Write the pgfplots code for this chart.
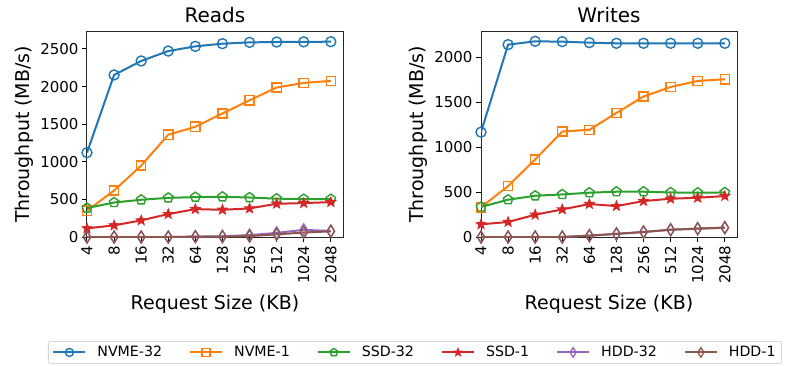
\documentclass[border=0pt]{standalone}
\usepackage{pgfplots}
\pgfplotsset{compat=1.18}
\usepackage{fontspec}
\setmainfont{DejaVu Sans}
\definecolor{c0}{HTML}{1F77B4}
\definecolor{c1}{HTML}{FF7F0E}
\definecolor{c2}{HTML}{2CA02C}
\definecolor{c3}{HTML}{D62728}
\definecolor{c4}{HTML}{9467BD}
\definecolor{c5}{HTML}{8C564B}
\pgfdeclareplotmark{fstar}{%
  \pgfpathmoveto{\pgfpointpolar{90}{\pgfplotmarksize}}%
  \pgfpathlineto{\pgfpointpolar{126}{0.42\pgfplotmarksize}}%
  \pgfpathlineto{\pgfpointpolar{162}{\pgfplotmarksize}}%
  \pgfpathlineto{\pgfpointpolar{198}{0.42\pgfplotmarksize}}%
  \pgfpathlineto{\pgfpointpolar{234}{\pgfplotmarksize}}%
  \pgfpathlineto{\pgfpointpolar{270}{0.42\pgfplotmarksize}}%
  \pgfpathlineto{\pgfpointpolar{306}{\pgfplotmarksize}}%
  \pgfpathlineto{\pgfpointpolar{342}{0.42\pgfplotmarksize}}%
  \pgfpathlineto{\pgfpointpolar{18}{\pgfplotmarksize}}%
  \pgfpathlineto{\pgfpointpolar{54}{0.42\pgfplotmarksize}}%
  \pgfpathclose\pgfusepathqfillstroke}
\pgfdeclareplotmark{tdiamond}{%
  \pgfpathmoveto{\pgfqpoint{0pt}{1.2\pgfplotmarksize}}%
  \pgfpathlineto{\pgfqpoint{0.75\pgfplotmarksize}{0pt}}%
  \pgfpathlineto{\pgfqpoint{0pt}{-1.2\pgfplotmarksize}}%
  \pgfpathlineto{\pgfqpoint{-0.75\pgfplotmarksize}{0pt}}%
  \pgfpathclose\pgfusepathqstroke}

\pgfplotstableread{
x nvme32 nvme1 ssd32 ssd1 hdd32 hdd1
0 1122 350 385 115 0 0
1 2155 618 459 155 0 0
2 2341 950 495 221 0 0
3 2473 1360 521 305 0 0
4 2535 1466 530 371 5 5
5 2571 1643 535 362 10 5
6 2588 1818 525 380 25 12
7 2593 1988 510 442 55 35
8 2595 2049 504 451 95 60
9 2597 2076 504 464 80 75
}\reads
\pgfplotstableread{
x nvme32 nvme1 ssd32 ssd1 hdd32 hdd1
0 1167 330 335 141 0 0
1 2141 567 415 167 0 0
2 2178 863 459 248 0 0
3 2174 1174 474 307 0 0
4 2163 1193 493 367 15 15
5 2156 1381 504 344 35 35
6 2156 1563 504 400 56 56
7 2156 1670 496 426 81 81
8 2156 1737 493 437 93 93
9 2156 1756 496 456 104 104
}\writes

\pgfplotsset{
  myaxis/.style={
    scale only axis, width=256pt, height=205.3pt,
    xmin=0, xmax=9.45, ymin=0,
    xtick={0,...,9},
    xticklabels={4,8,16,32,64,128,256,512,1024,2048},
    xticklabel style={rotate=90, anchor=east, font=\fontsize{15}{16}\selectfont},
    yticklabel style={font=\fontsize{15}{16}\selectfont},
    /pgf/number format/assume math mode=true,
    /pgf/number format/1000 sep={},
    scaled y ticks=false,
    tick align=outside, tick pos=left,
    major tick length=5pt,
    every tick/.style={black, line width=1pt},
    axis line style={line width=1pt, black!85},
    title style={font=\fontsize{20}{22}\selectfont, yshift=-1pt},
    label style={font=\fontsize{19}{21}\selectfont},
    xlabel style={yshift=-4pt},
    xlabel={Request Size (KB)},
    ylabel={Throughput (MB/s)},
    every axis plot/.append style={line width=2pt, mark size=5pt, mark options={line width=1.4pt, solid, fill=none}},
    legend image code/.code={\draw[mark repeat=2,mark phase=2, mark size=4pt] plot coordinates {(0pt,0pt) (16pt,0pt) (32pt,0pt)};},
  },
  hddstyle/.style={mark=tdiamond, mark size=5pt, mark options={line width=1.3pt, solid, fill=none}},
}

\begin{document}
\begin{tikzpicture}
\begin{axis}[myaxis, title={Reads}, ymax=2730,
  ytick={0,500,1000,1500,2000,2500},
  legend columns=6,
  legend style={at={(-39pt,-104pt)}, anchor=north west, draw=black!15, rounded corners=2pt, line width=0.8pt,
    font=\fontsize{14.2}{16}\selectfont, inner xsep=4pt, inner ysep=3pt,
    /tikz/every odd column/.append style={column sep=9pt},
    /tikz/every even column/.append style={column sep=25pt}},
]
\addplot[c0, mark=o] table[x=x,y=nvme32]{\reads};
\addplot[c1, mark=square, mark size=4.6pt] table[x=x,y=nvme1]{\reads};
\addplot[c2, mark=pentagon] table[x=x,y=ssd32]{\reads};
\addplot[c3, mark=fstar, mark options={fill=c3, line width=1pt}] table[x=x,y=ssd1]{\reads};
\addplot[c4, hddstyle] table[x=x,y=hdd32]{\reads};
\addplot[c5, hddstyle] table[x=x,y=hdd1]{\reads};
\legend{NVME-32,NVME-1,SSD-32,SSD-1,HDD-32,HDD-1}
\end{axis}
\begin{axis}[myaxis, at={(394pt,0pt)}, title={Writes}, ymax=2285,
  ytick={0,500,1000,1500,2000},
]
\addplot[c0, mark=o] table[x=x,y=nvme32]{\writes};
\addplot[c1, mark=square, mark size=4.6pt] table[x=x,y=nvme1]{\writes};
\addplot[c2, mark=pentagon] table[x=x,y=ssd32]{\writes};
\addplot[c3, mark=fstar, mark options={fill=c3, line width=1pt}] table[x=x,y=ssd1]{\writes};
\addplot[c4, hddstyle] table[x=x,y=hdd32]{\writes};
\addplot[c5, hddstyle] table[x=x,y=hdd1]{\writes};
\end{axis}
\pgfresetboundingbox
\path[use as bounding box] (-87pt,-128pt) rectangle (700pt,237pt);
\end{tikzpicture}
\end{document}
